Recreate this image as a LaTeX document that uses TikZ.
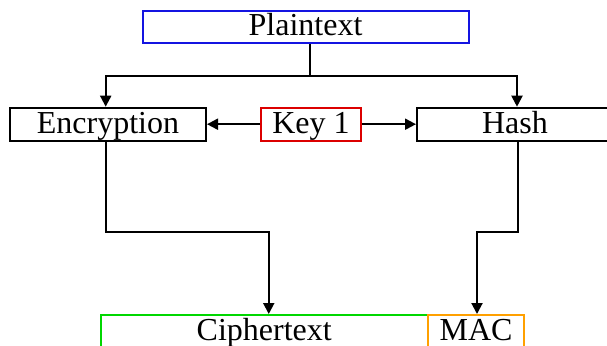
\documentclass[tikz,border=0pt]{standalone}
\usepackage{fontspec}
\setmainfont{Liberation Serif}
\usetikzlibrary{arrows.meta}
\definecolor{boxblue}{RGB}{20,20,225}
\definecolor{boxred}{RGB}{220,0,0}
\definecolor{boxgreen}{RGB}{0,215,0}
\definecolor{boxorange}{RGB}{255,160,0}
\begin{document}
\begin{tikzpicture}[x=1pt,y=-1pt,
  field/.style={draw, line width=2pt, inner sep=0pt, minimum height=33pt,
    text height=20pt, text depth=2pt,
    font=\fontsize{32}{38}\selectfont},
  flow/.style={line width=2pt},
  flowarrow/.style={flow, -{Triangle[length=11pt,width=11pt]}}]
  \useasboundingbox (0,0) rectangle (607,345);
  \clip (0,0) rectangle (607,345);

  % boxes
  \node[field, draw=boxblue, minimum width=326pt, minimum height=32pt] (plain) at (305.5,27) {Plaintext};
  \node[field, minimum width=196pt] (enc)  at (108,124.2) {Encryption};
  \node[field, draw=boxred, minimum width=100pt] (key) at (311,124.2) {Key 1};
  \node[field, minimum width=196pt] (hash) at (515,124.2) {Hash};
  \node[field, draw=boxgreen, minimum width=326.5pt] (ciph) at (264.25,331.5) {Ciphertext};
  \node[field, draw=boxorange, minimum width=96.5pt] (mac) at (476,331.5) {MAC};

  % plaintext feeds both branches
  \coordinate (split) at (310,75.7);
  \draw[flow] (plain.south -| split) -- (split);
  \draw[flowarrow] (split) -| ([xshift=-2.3pt]enc.north);
  \draw[flowarrow] (split) -| ([xshift=2pt]hash.north);

  % key into both operations
  \draw[flowarrow] (key.west) -- (enc.east);
  \draw[flowarrow] (key.east) -- (hash.west);

  % outputs
  \draw[flowarrow] ([xshift=-2.3pt]enc.south) -- ++(0,90) -| ([xshift=4.5pt]ciph.north);
  \draw[flowarrow] ([xshift=3pt]hash.south) -- ++(0,90) -| ([xshift=1pt]mac.north);
\end{tikzpicture}
\end{document}
